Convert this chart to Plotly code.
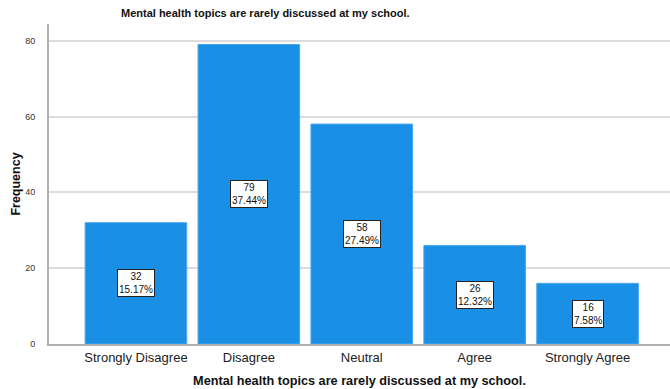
import plotly.graph_objects as go

categories = ["Strongly Disagree", "Disagree", "Neutral", "Agree", "Strongly Agree"]
counts = [32, 79, 58, 26, 16]
percents = [15.17, 37.44, 27.49, 12.32, 7.58]
y_ticks = [0, 20, 40, 60, 80]

title_text = "Mental health topics are rarely discussed at my school."
bar_color = "#1a8fe6"

xs = list(range(len(categories)))

fig = go.Figure(
    go.Bar(
        x=xs,
        y=counts,
        width=0.9,
        marker=dict(color=bar_color, line=dict(color="#4aa8ee", width=1)),
        hoverinfo="skip",
    )
)

# boxed count / percent labels at the middle of each bar
for x, c, p in zip(xs, counts, percents):
    fig.add_annotation(
        x=x, y=c / 2, xref="x", yref="y",
        text=f"{c}<br>{p:.2f}%",
        showarrow=False,
        font=dict(family="Arial", size=10, color="#111"),
        bgcolor="white", bordercolor="#222", borderwidth=1, borderpad=1,
        align="center",
    )

# chart title, centred over the left part of the plot
plot_w = 670 - 49
plot_h = 389 - 24 - 45
fig.add_annotation(
    xref="paper", yref="paper",
    x=(265 - 49) / plot_w, y=1 + (24 - 13) / plot_h,
    xanchor="center", yanchor="middle",
    text=f"<b>{title_text}</b>",
    showarrow=False,
    font=dict(family="Liberation Sans Narrow, Arial", size=11, color="#111"),
)

fig.update_layout(
    width=670, height=389,
    margin=dict(l=49, r=0, t=24, b=45),
    paper_bgcolor="white", plot_bgcolor="white",
    showlegend=False,
    font=dict(family="Arial", color="#222"),
    xaxis=dict(
        tickmode="array", tickvals=xs, ticktext=categories,
        range=[-0.77, 4.73],
        showline=True, linecolor="#b0b0b0", linewidth=2,
        showgrid=False, zeroline=False,
        tickfont=dict(size=13, color="#222"),
        ticks="",
        title=dict(text=f"<b>{title_text}</b>", font=dict(size=12.7, color="#111"), standoff=13),
    ),
    yaxis=dict(
        range=[0, 84.4],
        tickmode="array", tickvals=y_ticks,
        showline=True, linecolor="#b0b0b0", linewidth=2,
        showgrid=True, gridcolor="#dcdcdc", gridwidth=2,
        zeroline=False,
        tickfont=dict(size=9, color="#333"),
        ticks="", ticklabelstandoff=10,
        title=dict(text="<b>Frequency</b>", font=dict(size=12.5, color="#111"), standoff=2),
    ),
)

fig.write_html("out.html")
